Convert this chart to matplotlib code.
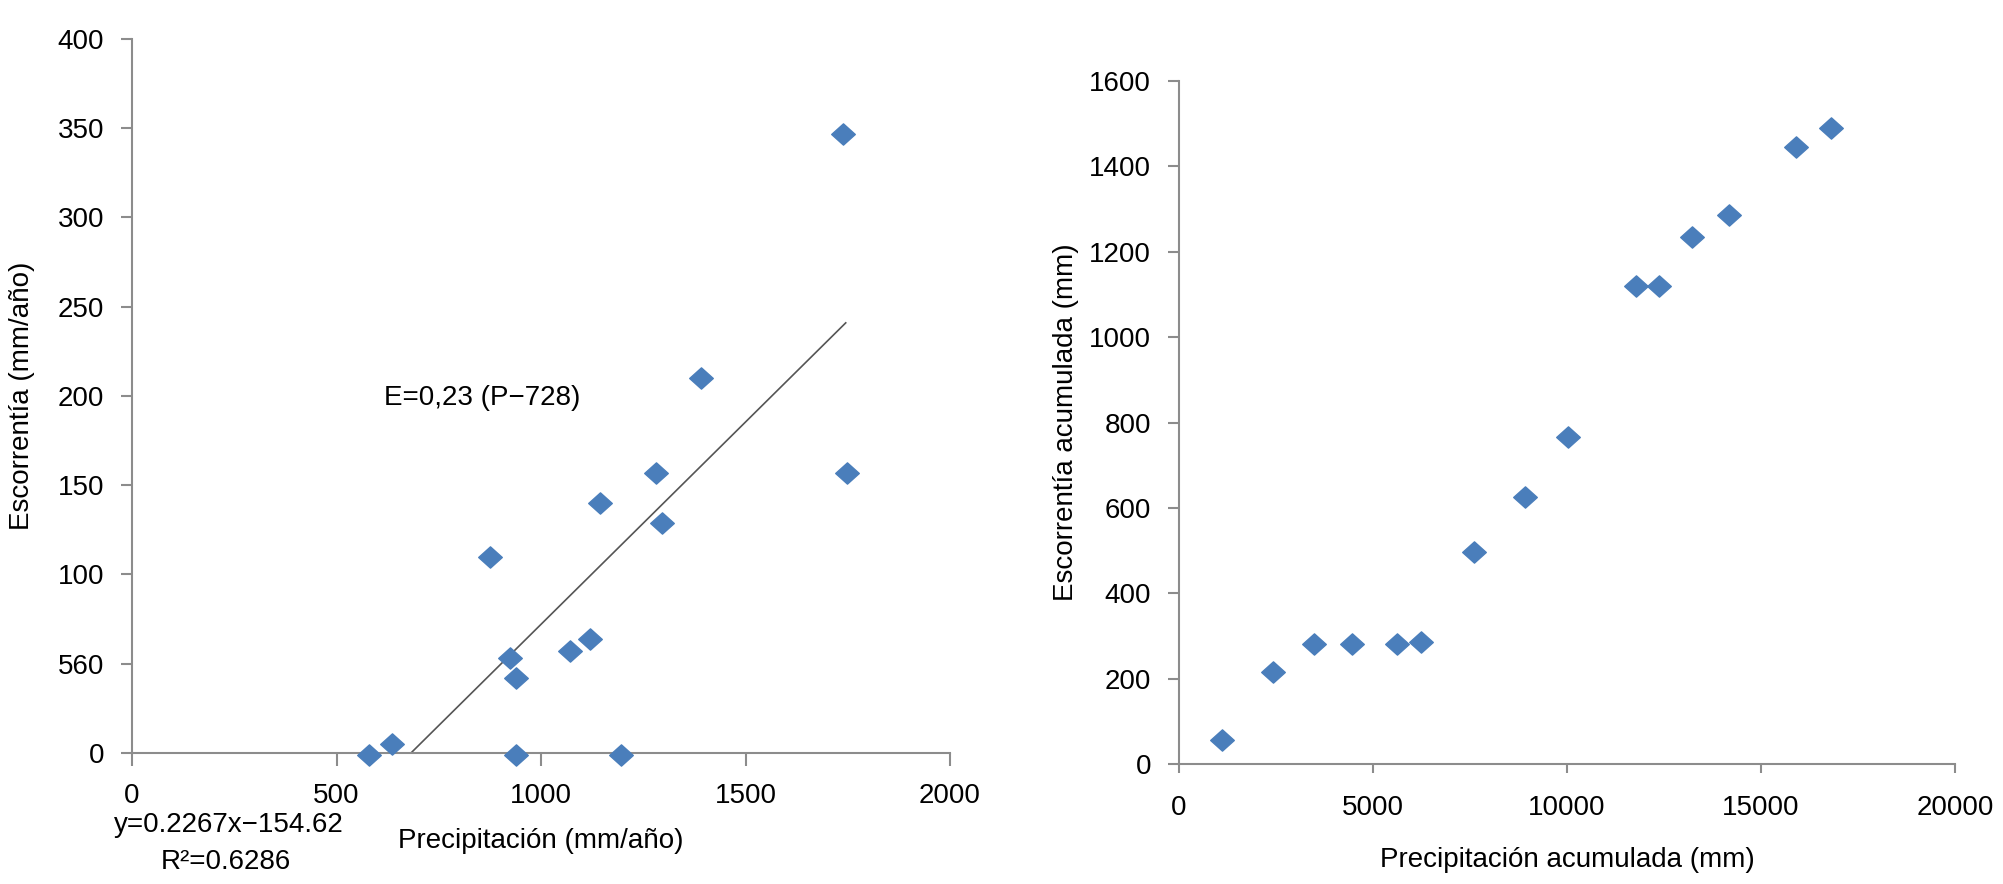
import numpy as np
import matplotlib
matplotlib.use("Agg")
import matplotlib.pyplot as plt
from matplotlib.path import Path

plt.rcParams['font.family'] = ['Liberation Sans', 'DejaVu Sans']

# left panel: annual precipitation vs annual runoff
precip = [580, 635, 875, 925, 940, 940, 1070, 1120, 1145, 1195, 1280, 1295, 1390, 1738, 1749]
runoff = [-1, 5, 110, 53, 42, -1, 57, 64, 140, -1, 157, 129, 210, 347, 157]
fit_slope = 0.2267
fit_intercept = -154.62
fit_x = [682, 1745]

left_xticks = [0, 500, 1000, 1500, 2000]
left_yticks = [0, 50, 100, 150, 200, 250, 300, 350, 400]
left_yticklabels = ['0', '560', '100', '150', '200', '250', '300', '350', '400']

# right panel: cumulative values
precip_acc = [1120, 2420, 3480, 4450, 5615, 6250, 7600, 8910, 10025,
              11780, 12370, 13220, 14180, 15910, 16810]
runoff_acc = [56, 215, 281, 281, 281, 286, 497, 625, 767,
              1120, 1120, 1235, 1285, 1445, 1490]

right_xticks = [0, 5000, 10000, 15000, 20000]
right_yticks = [0, 200, 400, 600, 800, 1000, 1200, 1400, 1600]

blue = '#4a7ebb'
grey = '#8c8c8c'
fs = 20

# excel style diamond, slightly wider than tall
diamond = Path([(-1, 0), (0, 0.9), (1, 0), (0, -0.9), (-1, 0)],
               [Path.MOVETO, Path.LINETO, Path.LINETO, Path.LINETO, Path.CLOSEPOLY])


def style_axes(ax, xlen):
    for side in ['top', 'right']:
        ax.spines[side].set_visible(False)
    for side in ['left', 'bottom']:
        ax.spines[side].set_color(grey)
        ax.spines[side].set_linewidth(1.5)
    ax.tick_params(axis='both', direction='out', color=grey, width=1.5,
                   labelsize=fs, pad=12)
    ax.tick_params(axis='y', length=8)
    ax.tick_params(axis='x', length=xlen)


fig = plt.figure(figsize=(20.03, 8.84), dpi=100)

ax1 = fig.add_axes([0.0659, 0.1482, 0.4084, 0.8077])
ax1.plot(precip, runoff, linestyle='none', marker=diamond, markersize=17,
         color=blue, clip_on=False, zorder=3)
fx = np.array(fit_x)
ax1.plot(fx, fit_slope * fx + fit_intercept, color='#555555', linewidth=1.2)
ax1.set_xlim(0, 2000)
ax1.set_ylim(0, 400)
ax1.set_xticks(left_xticks)
ax1.set_yticks(left_yticks)
ax1.set_yticklabels(left_yticklabels)
style_axes(ax1, 9.5)
ax1.text(617, 199, 'E=0,23 (P\u2212728)', fontsize=fs, ha='left', va='center')
ax1.set_xlabel('Precipitación (mm/año)', fontsize=fs)
ax1.xaxis.label.set_va('center')
ax1.xaxis.set_label_coords(0.5, -0.1232)
ax1.set_ylabel('Escorrentía (mm/año)', fontsize=fs)
ax1.yaxis.label.set_va('center')
ax1.yaxis.set_label_coords(-0.1345, 0.5)

fig.text(0.1143, 0.0667, 'y=0.2267x\u2212154.62', fontsize=fs, ha='center', va='center')
fig.text(0.1128, 0.0249, 'R²=0.6286', fontsize=fs, ha='center', va='center')

ax2 = fig.add_axes([0.5886, 0.1357, 0.3874, 0.7727])
ax2.plot(precip_acc, runoff_acc, linestyle='none', marker=diamond, markersize=17,
         color=blue, clip_on=False, zorder=3)
ax2.set_xlim(0, 20000)
ax2.set_ylim(0, 1600)
ax2.set_xticks(right_xticks)
ax2.set_yticks(right_yticks)
style_axes(ax2, 6.5)
ax2.tick_params(axis='x', pad=16)
ax2.set_xlabel('Precipitación acumulada (mm)', fontsize=fs)
ax2.xaxis.label.set_va('center')
ax2.xaxis.set_label_coords(0.5, -0.1406)
ax2.set_ylabel('Escorrentía acumulada (mm)', fontsize=fs)
ax2.yaxis.label.set_va('center')
ax2.yaxis.set_label_coords(-0.1456, 0.5)

fig.savefig('out.png', dpi=100, facecolor='white')
